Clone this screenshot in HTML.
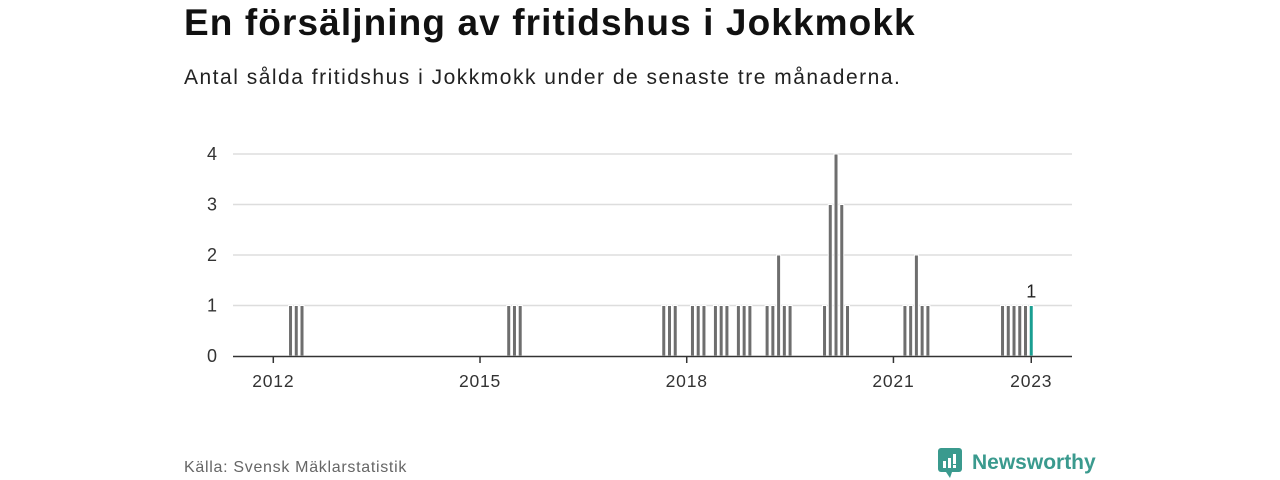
<!DOCTYPE html>
<html><head><meta charset="utf-8">
<style>
body{margin:0;width:1280px;height:480px;background:#fff;font-family:"Liberation Sans","DejaVu Sans",sans-serif;overflow:hidden;position:relative}
h1{position:absolute;left:184px;top:2px;margin:0;font-size:37px;font-weight:bold;color:#111;letter-spacing:1.1px}
.sub{position:absolute;left:184px;top:66px;font-size:21px;color:#222;letter-spacing:1.5px}
.src{position:absolute;left:184px;top:459px;font-size:16px;color:#666;letter-spacing:0.7px}
.logo{position:absolute;left:938px;top:448px;display:flex;align-items:center;color:#3a9a8e;font-size:21px;font-weight:bold}
</style></head><body>
<h1>En försäljning av fritidshus i Jokkmokk</h1>
<div class="sub">Antal sålda fritidshus i Jokkmokk under de senaste tre månaderna.</div>
<svg id="chart" width="1280" height="480" style="position:absolute;left:0;top:0"></svg>
<div class="src">Källa: Svensk Mäklarstatistik</div>
<div class="logo">
<svg width="26" height="30" viewBox="0 0 26 30"><rect x="0" y="0" width="24" height="24" rx="3" fill="#3a9a8e"/><path d="M8 24 L12 30 L14 24Z" fill="#3a9a8e"/><rect x="5" y="13" width="3" height="7" fill="#fff"/><rect x="10" y="10" width="3" height="10" fill="#fff"/><rect x="15" y="6" width="3" height="10" fill="#fff"/><rect x="15" y="17" width="3" height="3" fill="#fff"/></svg>
<span style="margin-left:8px">Newsworthy</span></div>
<script>
// month index counted from Jan 2012
const months = [3,4,5,41,42,43,68,69,70,73,74,75,77,78,79,81,82,83,86,87,88,89,90,96,97,98,99,100,110,111,112,113,114,127,128,129,130,131,132];
const values = [1,1,1,1,1,1,1,1,1,1,1,1,1,1,1,1,1,1,1,1,2,1,1,1,3,4,3,1,1,1,2,1,1,1,1,1,1,1,1];
const yTicks = [0,1,2,3,4];
const xTickYears = [2012,2015,2018,2021,2023];

const svg = document.getElementById('chart');
const NS = 'http://www.w3.org/2000/svg';
const x0 = 273.3, pxPerMonth = 5.742;
const xScale = m => x0 + m * pxPerMonth;
const yScale = v => 356 - v * 50.5;
function mk(t, a){const e=document.createElementNS(NS,t);for(const k in a)e.setAttribute(k,a[k]);svg.appendChild(e);return e;}

yTicks.forEach(v=>{
  if(v>0){const g=mk('line',{x1:233,x2:1072,y1:yScale(v),y2:yScale(v),stroke:'#ddd','stroke-width':1.5});
  
  }
  const t=mk('text',{x:217,y:yScale(v)+6,'text-anchor':'end','font-size':18,fill:'#333'});
  t.textContent=v;
  
  
});
months.forEach((m,i)=>{
  const last = i===months.length-1;
  const r=mk('rect',{x:xScale(m)-2,y:yScale(values[i]),width:4,height:yScale(0)-yScale(values[i]),fill:last?'#1a9e91':'#6e6e6e',stroke:'#fff','stroke-width':1});
  
  
  if(last){const t=mk('text',{x:xScale(m),y:yScale(values[i])-8,'text-anchor':'middle','font-size':18,fill:'#222'});
    t.textContent=values[i];
    
    }
});
const ax=mk('line',{x1:233,x2:1072,y1:356.5,y2:356.5,stroke:'#333','stroke-width':1.5});


xTickYears.forEach(y=>{
  const x=xScale((y-2012)*12);
  const tk=mk('line',{x1:x,x2:x,y1:357,y2:363,stroke:'#333','stroke-width':1.5});
  
  
  const t=mk('text',{x:x,y:387,'text-anchor':'middle','font-size':17.5,fill:'#333','letter-spacing':0.8});
  t.textContent=y;
  
  
});
</script>
</body></html>
